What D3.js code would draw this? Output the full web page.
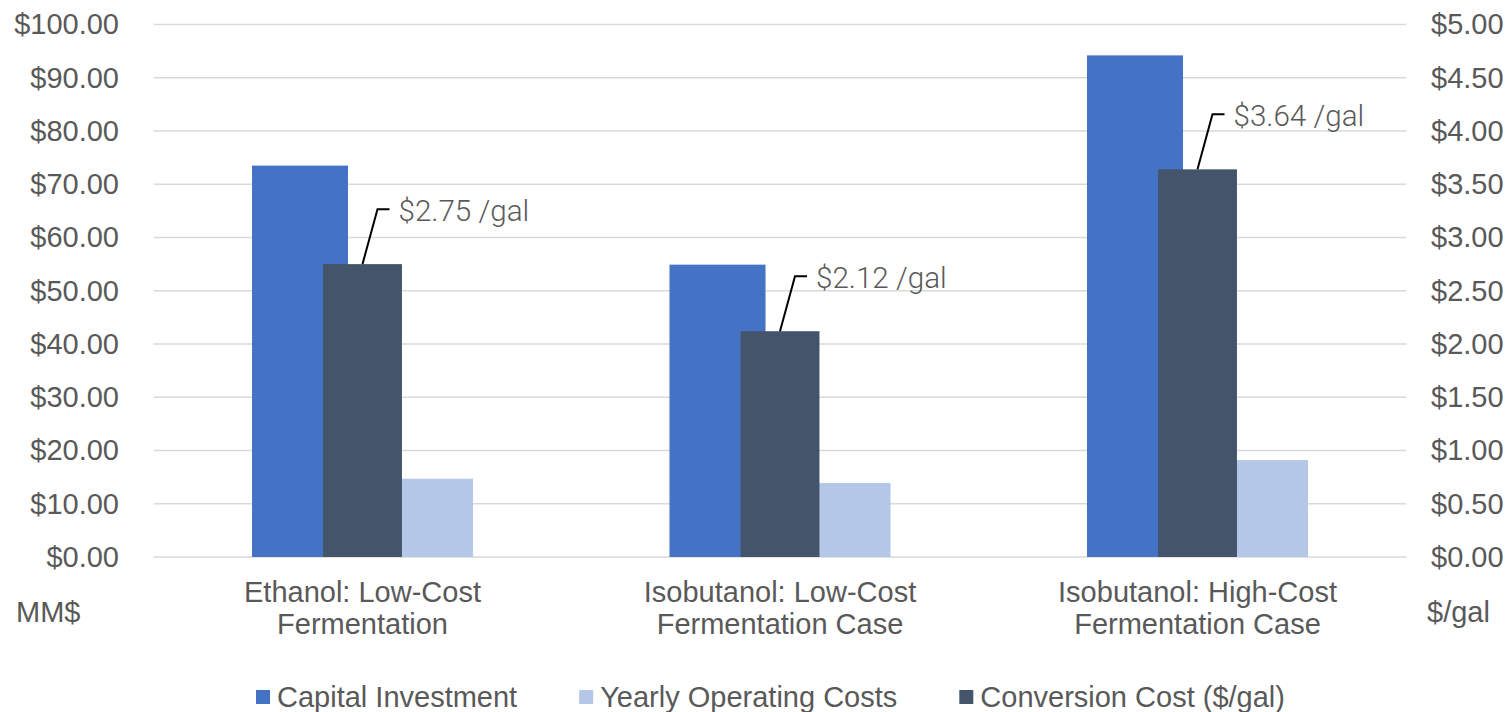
<!DOCTYPE html>
<html>
<head>
<meta charset="utf-8">
<script src="https://cdn.jsdelivr.net/npm/d3@7"></script>
<style>
  html, body { margin: 0; padding: 0; background: #fff; }
  svg { display: block; }
  text { font-family: "Liberation Sans", Arial, sans-serif; fill: #595959; }
</style>
</head>
<body>
<svg id="chart" width="1509" height="712"></svg>
<script>
// ---- Data ----
const categories = [
  "Ethanol: Low-Cost Fermentation",
  "Isobutanol: Low-Cost Fermentation Case",
  "Isobutanol: High-Cost Fermentation Case"
];
const categoryLines = [
  ["Ethanol: Low-Cost", "Fermentation"],
  ["Isobutanol: Low-Cost", "Fermentation Case"],
  ["Isobutanol: High-Cost", "Fermentation Case"]
];
const capitalInvestment = [73.5, 54.9, 94.2];        // MM$
const yearlyOperatingCosts = [14.7, 13.9, 18.2];     // MM$
const conversionCost = [2.75, 2.12, 3.64];           // $/gal
const conversionLabels = ["$2.75 /gal", "$2.12 /gal", "$3.64 /gal"];
const leftTicks = [0, 10, 20, 30, 40, 50, 60, 70, 80, 90, 100];
const rightTicks = [0, 0.5, 1, 1.5, 2, 2.5, 3, 3.5, 4, 4.5, 5];
const seriesNames = ["Capital Investment", "Yearly Operating Costs", "Conversion Cost ($/gal)"];
const seriesColors = ["#4472C4", "#B4C7E7", "#44546A"];

// ---- Layout ----
const svg = d3.select("#chart");
const plot = { left: 153.75, right: 1406.25, top: 24.5, bottom: 557 };
const FS = 29;

const x = d3.scaleBand().domain(categories).range([plot.left, plot.right]).padding(0);
const yL = d3.scaleLinear().domain([0, 100]).range([plot.bottom, plot.top]);
const yR = d3.scaleLinear().domain([0, 5]).range([plot.bottom, plot.top]);

const bw = x.bandwidth();
const primW = bw * 0.23;
const primOff = bw * 0.1497;
const secW = bw * 0.189;

// gridlines
svg.append("g").selectAll("line").data(leftTicks).join("line")
  .attr("x1", plot.left).attr("x2", plot.right)
  .attr("y1", d => yL(d)).attr("y2", d => yL(d))
  .attr("stroke", "#d9d9d9").attr("stroke-width", 1.5);

// left axis labels
const leftAxis = d3.axisLeft(yL).tickValues(leftTicks).tickSize(0).tickPadding(0)
  .tickFormat(d => "$" + d3.format(".2f")(d));
const gL = svg.append("g").attr("transform", `translate(119,0)`).call(leftAxis);
gL.select(".domain").remove();
gL.selectAll("text").attr("font-size", FS).attr("fill", "#595959")
  .attr("font-family", "Liberation Sans, Arial, sans-serif");

// right axis labels
const rightAxis = d3.axisRight(yR).tickValues(rightTicks).tickSize(0).tickPadding(0)
  .tickFormat(d => "$" + d3.format(".2f")(d));
const gR = svg.append("g").attr("transform", `translate(1431,0)`).call(rightAxis);
gR.select(".domain").remove();
gR.selectAll("text").attr("font-size", FS).attr("fill", "#595959")
  .attr("font-family", "Liberation Sans, Arial, sans-serif");

const center = c => x(c) + bw / 2;

// primary bars
svg.append("g").selectAll("rect").data(categories).join("rect")
  .attr("x", (c) => center(c) - primOff - primW / 2)
  .attr("width", primW)
  .attr("y", (c, i) => yL(capitalInvestment[i]))
  .attr("height", (c, i) => yL(0) - yL(capitalInvestment[i]))
  .attr("fill", seriesColors[0]);
svg.append("g").selectAll("rect").data(categories).join("rect")
  .attr("x", (c) => center(c) + primOff - primW / 2)
  .attr("width", primW)
  .attr("y", (c, i) => yL(yearlyOperatingCosts[i]))
  .attr("height", (c, i) => yL(0) - yL(yearlyOperatingCosts[i]))
  .attr("fill", seriesColors[1]);
// secondary bars (on top)
svg.append("g").selectAll("rect").data(categories).join("rect")
  .attr("x", (c) => center(c) - secW / 2)
  .attr("width", secW)
  .attr("y", (c, i) => yR(conversionCost[i]))
  .attr("height", (c, i) => yR(0) - yR(conversionCost[i]))
  .attr("fill", seriesColors[2]);

// annotations with leader lines
const ann = svg.append("g");
categories.forEach((c, i) => {
  const cx = center(c), ty = yR(conversionCost[i]);
  const ky = ty - 55;
  ann.append("path")
    .attr("d", `M${cx},${ty} L${cx + 15},${ky} L${cx + 27},${ky}`)
    .attr("fill", "none").attr("stroke", "#000").attr("stroke-width", 2);
  ann.append("text")
    .attr("x", cx + 36).attr("y", ky + 11.5)
    .attr("font-size", 29.6)
    .style("font-family", "Roboto, 'Open Sans', sans-serif")
    .style("font-weight", 300)
    .attr("fill", "#595959")
    .text(conversionLabels[i]);
});

// category labels
const cat = svg.append("g");
categories.forEach((c, i) => {
  categoryLines[i].forEach((ln, j) => {
    cat.append("text")
      .attr("x", center(c)).attr("y", 602 + j * 32)
      .attr("text-anchor", "middle").attr("font-size", FS)
      .text(ln);
  });
});

// axis unit labels
svg.append("text").attr("x", 16).attr("y", 622).attr("font-size", FS).text("MM$");
svg.append("text").attr("x", 1427).attr("y", 622).attr("font-size", FS).text("$/gal");

// legend
const leg = svg.append("g");
let lx = 256;
seriesNames.forEach((name, i) => {
  leg.append("rect").attr("x", lx).attr("y", 690).attr("width", 14).attr("height", 14)
    .attr("fill", seriesColors[i]);
  const t = leg.append("text").attr("x", lx + 21).attr("y", 707)
    .attr("font-size", FS).text(name);
  lx = lx + 21 + t.node().getComputedTextLength() + 62;
});
</script>
</body>
</html>
